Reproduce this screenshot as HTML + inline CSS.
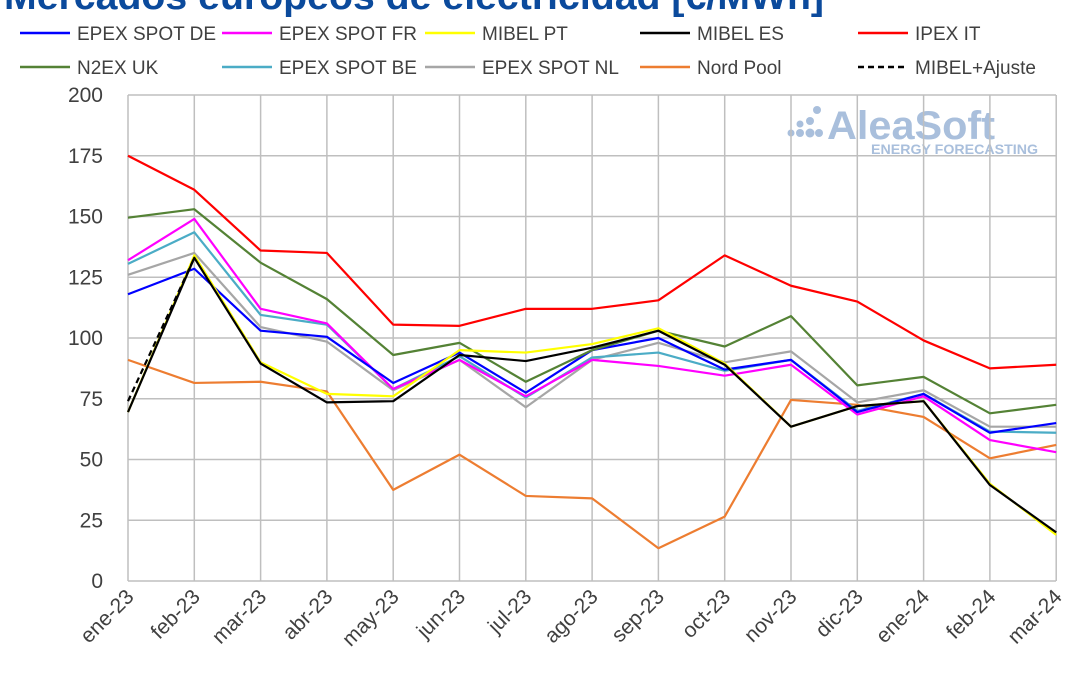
<!DOCTYPE html>
<html><head><meta charset="utf-8"><style>
body{margin:0;background:#fff;width:1080px;height:675px;overflow:hidden;font-family:"Liberation Sans",sans-serif}
</style></head><body>
<svg id="s" width="1080" height="675" xmlns="http://www.w3.org/2000/svg" font-family="Liberation Sans, sans-serif">
<text x="4" y="9" font-size="38" font-weight="bold" fill="#0b4a9c" textLength="820" lengthAdjust="spacingAndGlyphs">Mercados europeos de electricidad [€/MWh]</text>
<g fill="#a9bfdc">
<circle cx="791" cy="133" r="3.5"/><circle cx="800" cy="133" r="4"/><circle cx="810" cy="133" r="4.5"/><circle cx="800" cy="124" r="3.5"/><circle cx="810" cy="121" r="4"/><circle cx="817" cy="110" r="4"/><circle cx="819" cy="133" r="4"/>
</g>
<text x="827" y="139" font-size="40" font-weight="bold" fill="#a9bfdc" textLength="168" lengthAdjust="spacingAndGlyphs">AleaSoft</text>
<text x="871" y="154" font-size="14" font-weight="bold" fill="#a9bfdc" textLength="167" lengthAdjust="spacingAndGlyphs">ENERGY FORECASTING</text>
<g id="grid" stroke="#bfbfbf" stroke-width="1.5"></g>
<g id="lines" fill="none" stroke-width="2.2" stroke-linejoin="round"></g>
<g id="lab" font-size="21" fill="#404040"></g>
<g id="xl" font-size="21" fill="#404040"></g>
<g id="leg" font-size="19" fill="#404040"></g>
</svg>
<script>
const NS="http://www.w3.org/2000/svg";
function el(p,t,a,txt){const e=document.createElementNS(NS,t);for(const k in a)e.setAttribute(k,a[k]);if(txt!==undefined)e.textContent=txt;document.getElementById(p).appendChild(e);return e;}
const x0=128,dx=66.3,y0=581,k=2.43;
for(let i=0;i<=8;i++){const y=y0-i*25*k;el('grid','line',{x1:x0,x2:1056,y1:y,y2:y});el('lab','text',{x:103,y:y+7,'text-anchor':'end'},String(i*25));}
const mon=['ene-23','feb-23','mar-23','abr-23','may-23','jun-23','jul-23','ago-23','sep-23','oct-23','nov-23','dic-23','ene-24','feb-24','mar-24'];
mon.forEach((m,i)=>{const x=x0+i*dx;el('grid','line',{x1:x,x2:x,y1:95,y2:581});el('xl','text',{x:x+7,y:598,'text-anchor':'end',transform:`rotate(-45 ${x+7} 598)`},m);});
const S=[
['#ed7d31',[91,81.5,82,78,37.5,52,35,34,13.5,26.5,74.5,72.5,67.5,50.5,56]],
['#a6a6a6',[126,135,104.5,98.5,78.5,91,71.5,91,98,90,94.5,73.5,78.5,63.5,63.5]],
['#4bacc6',[130.5,143.5,109.5,105.5,79,92.5,75.5,92,94,86.5,91,70,77,61.5,61]],
['#ff00ff',[132,149,112,106,79,91,76,91,88.5,84.5,89,68.5,76,58,53]],
['#0000ff',[118,128.5,103,100.5,81.5,94,77.5,95,100,87,91,69.5,77,61,65]],
['#548235',[149.5,153,131,116,93,98,82,95,103,96.5,109,80.5,84,69,72.5]],
['#ff0000',[175,161,136,135,105.5,105,112,112,115.5,134,121.5,115,99,87.5,89]],
['#ffff00',[69.5,134,90,77,76,95,94,97.5,104,89.5,63.5,72,74,40,19]],
['#000000',[69.5,133,89.5,73.5,74,93,90.5,96,103,89,63.5,72,74,39.5,20]],
];
S.forEach(([c,d])=>el('lines','polyline',{stroke:c,points:d.map((v,i)=>`${x0+i*dx},${y0-v*k}`).join(' ')}));
el('lines','polyline',{stroke:'#000','stroke-dasharray':'6 4',points:`${x0},${y0-74*k} ${x0+dx},${y0-133*k}`});
const L=[['EPEX SPOT DE','#0000ff',20,33],['EPEX SPOT FR','#ff00ff',222,33],['MIBEL PT','#ffff00',425,33],['MIBEL ES','#000',640,33],['IPEX IT','#ff0000',858,33],
['N2EX UK','#548235',20,67],['EPEX SPOT BE','#4bacc6',222,67],['EPEX SPOT NL','#a6a6a6',425,67],['Nord Pool','#ed7d31',640,67],['MIBEL+Ajuste','#000',858,67,1]];
L.forEach(([t,c,x,y,d])=>{const a={x1:x,x2:x+50,y1:y,y2:y,stroke:c,'stroke-width':2.5};if(d)a['stroke-dasharray']='6 4';el('leg','line',a);el('leg','text',{x:x+57,y:y+7},t);});
</script>
</body></html>
